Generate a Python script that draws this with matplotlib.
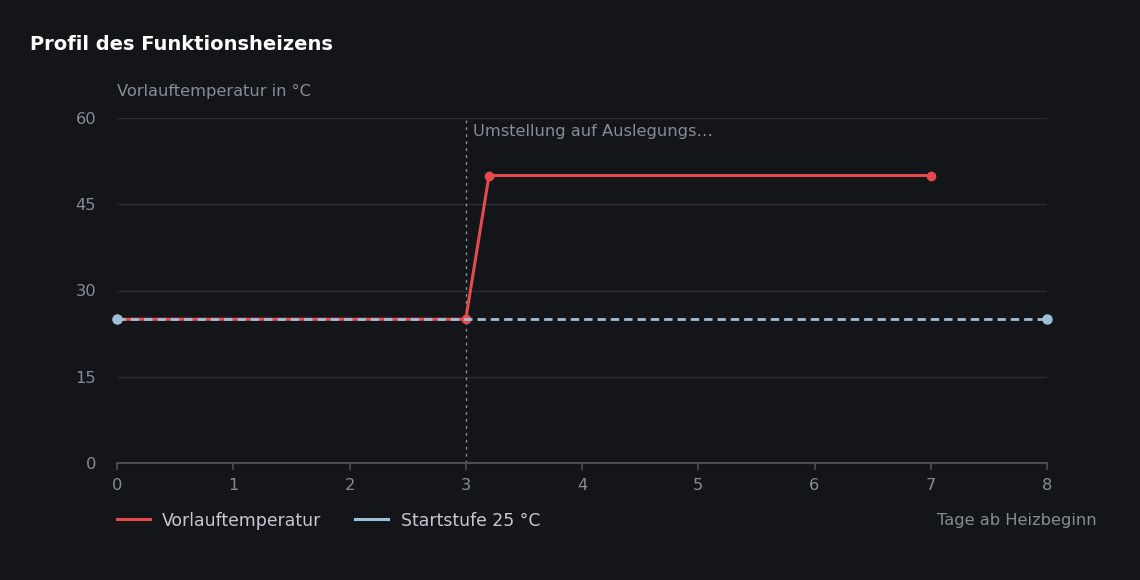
import matplotlib
matplotlib.use("Agg")
import matplotlib.pyplot as plt
from matplotlib.lines import Line2D

# Data
days_flow = [0, 3, 3.2, 7]
temp_flow = [25, 25, 50, 50]
days_start = [0, 8]
temp_start = [25, 25]
switch_day = 3
switch_label = "Umstellung auf Auslegungs…"
x_ticks = [0, 1, 2, 3, 4, 5, 6, 7, 8]
y_ticks = [0, 15, 30, 45, 60]

BG = "#131519"
RED = "#e5484d"
BLUE = "#9dbfd9"
GRID = "#2b2e34"
TICK = "#868c95"
LEG = "#c5c8cd"

plt.rcParams['font.family'] = ['DejaVu Sans']
FS = 11.7

fig = plt.figure(figsize=(11.4, 5.8), dpi=100, facecolor=BG)
ax = fig.add_axes([117/1140, 1-463/580, (1047-117)/1140, (463-118)/580])
ax.set_facecolor(BG)

ax.set_xlim(0, 8)
ax.set_ylim(0, 60)
ax.set_xticks(x_ticks)
ax.set_yticks(y_ticks)
ax.grid(axis='y', color=GRID, linewidth=1)
ax.set_axisbelow(True)
for s in ['top', 'right', 'left']:
    ax.spines[s].set_visible(False)
ax.spines['bottom'].set_color("#4a4d53")
ax.spines['bottom'].set_linewidth(1.5)
ax.tick_params(axis='x', colors="#4a4d53", length=5, width=1.2, labelcolor=TICK, labelsize=FS, pad=6)
ax.tick_params(axis='y', length=0, labelcolor=TICK, labelsize=FS, pad=15)

ax.axvline(switch_day, color="#8a8e95", linestyle=(0, (2, 3)), linewidth=1, zorder=2)
ax.text(switch_day + 0.065, 57.7, switch_label, color=TICK, fontsize=FS, va='center', ha='left')

ax.plot(days_flow, temp_flow, color=RED, linewidth=2.2, marker='o', markersize=6, zorder=3, clip_on=False)
ax.plot(days_start, temp_start, color=BLUE, linewidth=2, linestyle=(0, (3, 1.8)), marker='o', markersize=6.5, zorder=4, clip_on=False)

fig.text(117/1140, 1-91/580, "Vorlauftemperatur in °C", color=TICK, fontsize=FS, va='center', ha='left')
fig.text(30/1140, 1-45/580, "Profil des Funktionsheizens", color="white", fontsize=14, fontweight='bold', va='center', ha='left')
fig.text(1097/1140, 1-520/580, "Tage ab Heizbeginn", color=TICK, fontsize=FS, va='center', ha='right')

handles = [Line2D([], [], color=RED, linewidth=2.2), Line2D([], [], color=BLUE, linewidth=2.2)]
leg = fig.legend(handles, ["Vorlauftemperatur", "Startstufe 25 °C"], loc='center left',
                 bbox_to_anchor=(117/1140, 1-520.5/580), ncol=2, frameon=False, fontsize=12.4,
                 borderpad=0, borderaxespad=0,
                 handlelength=1.92, handletextpad=0.7, columnspacing=1.97, labelcolor=LEG)

fig.savefig("out.png", dpi=100, facecolor=BG)
